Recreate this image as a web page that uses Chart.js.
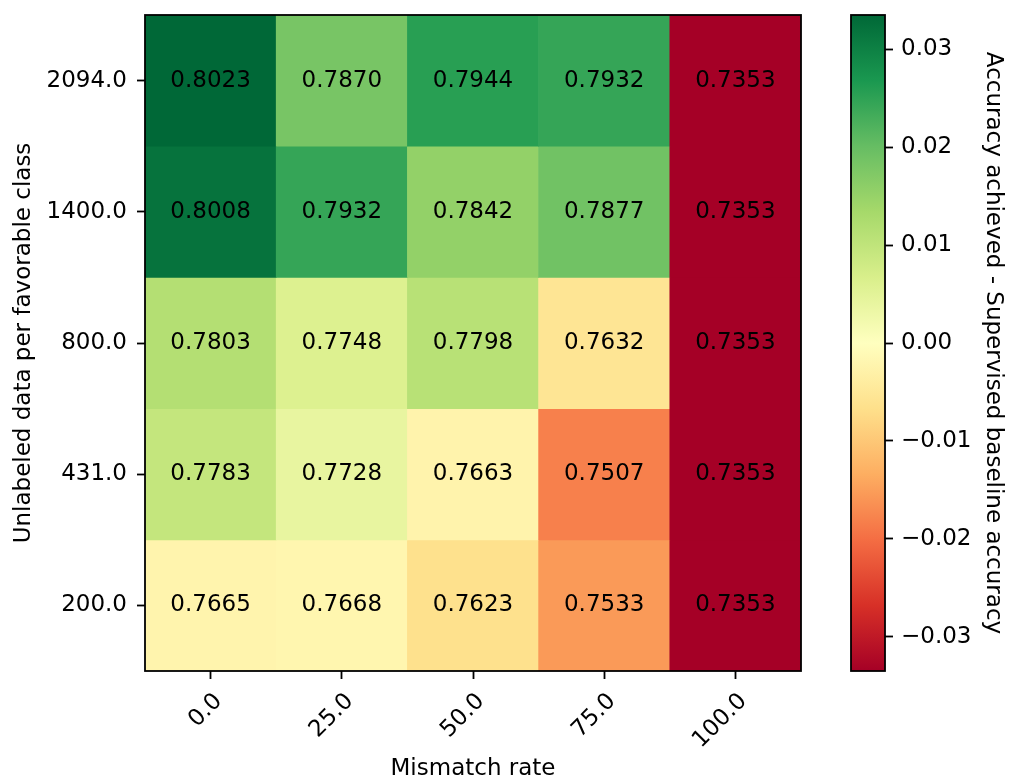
<!DOCTYPE html>
<html>
<head>
<meta charset="utf-8">
<script src="https://cdn.jsdelivr.net/npm/chart.js@4"></script>
<style>
  html, body { margin: 0; padding: 0; background: #fff; }
  #wrap { position: relative; width: 1013px; height: 783px; }
  canvas { position: absolute; left: 0; top: 0; }
</style>
</head>
<body>
<div id="wrap">
  <canvas id="main" width="1013" height="783"></canvas>
  <canvas id="cbar" width="1013" height="783"></canvas>
</div>
<script>
// ---- data ----
const xLabels = ['0.0', '25.0', '50.0', '75.0', '100.0'];           // mismatch rate
const yLabels = ['2094.0', '1400.0', '800.0', '431.0', '200.0'];    // top to bottom
const acc2094 = [0.8023, 0.7870, 0.7944, 0.7932, 0.7353];
const acc1400 = [0.8008, 0.7932, 0.7842, 0.7877, 0.7353];
const acc800  = [0.7803, 0.7748, 0.7798, 0.7632, 0.7353];
const acc431  = [0.7783, 0.7728, 0.7663, 0.7507, 0.7353];
const acc200  = [0.7665, 0.7668, 0.7623, 0.7533, 0.7353];
const rows = [acc2094, acc1400, acc800, acc431, acc200];
const baseline = 0.7688;         // supervised baseline accuracy
const cbMin = -0.0335, cbMax = 0.0335;
const cbTicks = [-0.03, -0.02, -0.01, 0.00, 0.01, 0.02, 0.03];

// ---- colormap (RdYlGn) ----
const RdYlGn = ['#a50026','#d73027','#f46d43','#fdae61','#fee08b','#ffffbf',
                '#d9ef8b','#a6d96a','#66bd63','#1a9850','#006837'];
function hex2rgb(h) { return [1,3,5].map(i => parseInt(h.substr(i,2),16)); }
function cmap(t) {
  t = Math.max(0, Math.min(1, t));
  const p = t * (RdYlGn.length - 1);
  const i = Math.min(Math.floor(p), RdYlGn.length - 2);
  const f = p - i;
  const a = hex2rgb(RdYlGn[i]), b = hex2rgb(RdYlGn[i+1]);
  const c = a.map((v, k) => Math.round(v + (b[k] - v) * f));
  return `rgb(${c[0]},${c[1]},${c[2]})`;
}
function colorFor(diff) { return cmap((diff - cbMin) / (cbMax - cbMin)); }

const FONT = 'DejaVu Sans';
const FS = 23;
Chart.defaults.font.family = FONT;
Chart.defaults.font.size = FS;
Chart.defaults.color = '#000';

const nR = rows.length;
const datasets = rows.map((row, i) => ({
  label: yLabels[i],
  data: row.map(() => [nR - 1 - i, nR - i]),
  values: row,
  backgroundColor: row.map(v => colorFor(v - baseline)),
  borderWidth: 0,
  barPercentage: 1,
  categoryPercentage: 1,
  grouped: false
}));

const cellText = {
  id: 'cellText',
  afterDatasetsDraw(chart) {
    const ctx = chart.ctx;
    ctx.save();
    ctx.fillStyle = '#000';
    ctx.font = `${FS}px "${FONT}"`;
    ctx.textAlign = 'center';
    ctx.textBaseline = 'middle';
    chart.data.datasets.forEach((ds, di) => {
      chart.getDatasetMeta(di).data.forEach((bar, j) => {
        const y = (bar.y + bar.base) / 2;
        ctx.fillText(ds.values[j].toFixed(4), bar.x, y);
      });
    });
    ctx.restore();
  }
};
const frame = {
  id: 'frame',
  afterDraw(chart) {
    const a = chart.chartArea, ctx = chart.ctx;
    ctx.save();
    ctx.strokeStyle = '#000';
    ctx.lineWidth = 1.8;
    ctx.strokeRect(a.left, a.top, a.right - a.left, a.bottom - a.top);
    ctx.restore();
  }
};

function noPad(s) { s.paddingTop = 0; s.paddingBottom = 0; s.paddingLeft = 0; s.paddingRight = 0; }

const tickGrid = { drawOnChartArea: false, drawTicks: true, tickLength: 8,
                   tickColor: '#000', tickWidth: 1.8, color: '#000' };

new Chart(document.getElementById('main'), {
  type: 'bar',
  data: { labels: xLabels, datasets },
  options: {
    responsive: false,
    animation: false,
    layout: { padding: { left: 0, top: 15, right: 212, bottom: 0 } },
    plugins: { legend: { display: false }, tooltip: { enabled: false } },
    scales: {
      x: {
        type: 'category',
        offset: true,
        grid: Object.assign({ offset: false }, tickGrid),
        border: { display: false },
        ticks: { minRotation: 45, maxRotation: 45, padding: 9, labelOffset: 8,
                 color: '#000', font: { size: FS } },
        title: { display: true, text: 'Mismatch rate', color: '#000',
                 font: { size: FS }, padding: { top: 0, bottom: 0 } },
        afterFit(s) { s.height = 112; noPad(s); }
      },
      y: {
        type: 'linear',
        min: 0, max: nR,
        grid: tickGrid,
        border: { display: false },
        afterBuildTicks(s) { s.ticks = yLabels.map((_, i) => ({ value: i + 0.5 })); },
        ticks: { padding: 10, color: '#000', font: { size: FS },
                 callback: (v) => yLabels[nR - 1 - Math.floor(v)] },
        title: { display: true, text: 'Unlabeled data per favorable class', color: '#000',
                 font: { size: FS }, padding: { top: 10, bottom: 0 } },
        afterFit(s) { s.width = 145; noPad(s); }
      }
    }
  },
  plugins: [cellText, frame]
});

// ---- colorbar ----
new Chart(document.getElementById('cbar'), {
  type: 'bar',
  data: {
    labels: ['cb'],
    datasets: [{
      data: [[cbMin, cbMax]],
      borderWidth: 0,
      barPercentage: 1,
      categoryPercentage: 1,
      backgroundColor: (c) => {
        const a = c.chart.chartArea;
        if (!a) return '#888';
        const g = c.chart.ctx.createLinearGradient(0, a.bottom, 0, a.top);
        RdYlGn.forEach((col, i) => g.addColorStop(i / (RdYlGn.length - 1), col));
        return g;
      }
    }]
  },
  options: {
    responsive: false,
    animation: false,
    layout: { padding: { left: 851, top: 15, right: 0, bottom: 112 } },
    plugins: { legend: { display: false }, tooltip: { enabled: false } },
    scales: {
      x: { display: false },
      y: {
        position: 'right',
        min: cbMin, max: cbMax,
        grid: tickGrid,
        border: { display: false },
        afterBuildTicks(s) { s.ticks = cbTicks.map(v => ({ value: v })); },
        ticks: { padding: 8, color: '#000', font: { size: FS },
                 callback: (v) => v.toFixed(2).replace('-', '\u2212') },
        title: { display: true, text: 'Accuracy achieved - Supervised baseline accuracy',
                 color: '#000', font: { size: FS }, padding: { top: 6, bottom: 0 } },
        afterFit(s) { s.width = 128; noPad(s); }
      }
    }
  },
  plugins: [frame]
});
</script>
</body>
</html>
